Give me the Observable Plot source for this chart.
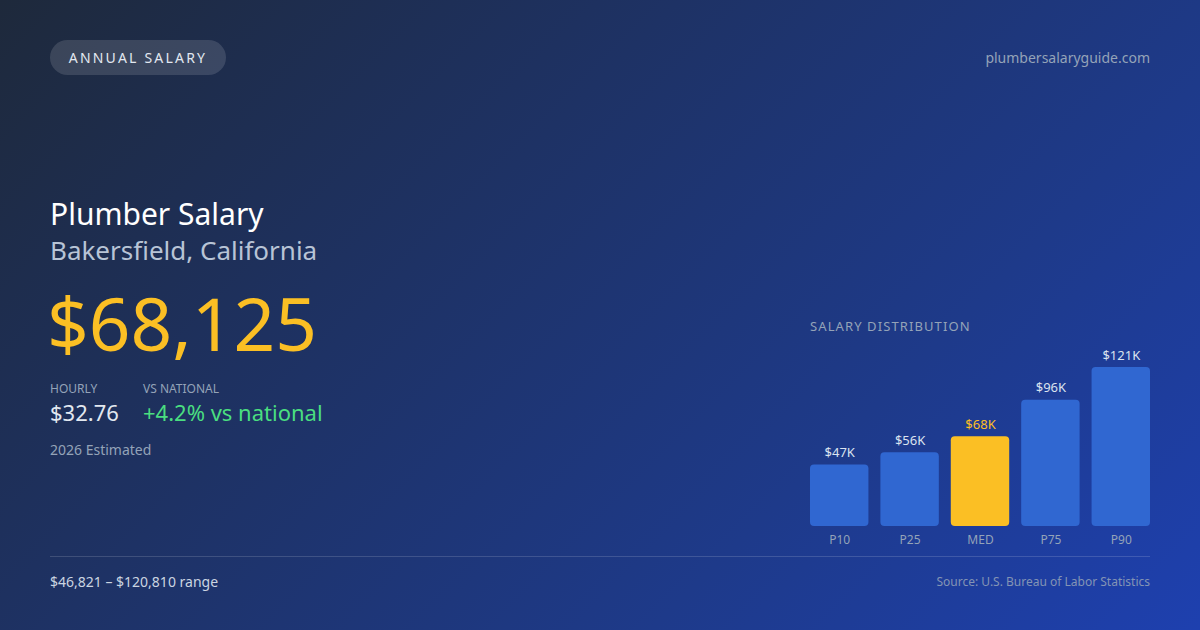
<!DOCTYPE html>
<html>
<head>
<meta charset="utf-8">
<script src="https://cdn.jsdelivr.net/npm/d3@7"></script>
<script src="https://cdn.jsdelivr.net/npm/@observablehq/plot@0.6"></script>
<style>
  html, body { margin: 0; padding: 0; }
  body { width: 1200px; height: 630px; overflow: hidden; font-family: "Noto Sans", "Open Sans", sans-serif; }
  #card { position: relative; width: 1200px; height: 630px; background: linear-gradient(135deg, #1e293b 0%, #1e3a8a 70%, #1e40af 100%); overflow: hidden; }
  .abs { position: absolute; white-space: nowrap; }
  #pill { left: 50px; top: 40px; width: 176px; height: 35px; border-radius: 18px; background: rgba(255,255,255,0.13); color: #e2e8f0; font-size: 14px; letter-spacing: 2.2px; line-height: 35px; text-align: center; }
  #site { right: 50px; top: 48px; font-size: 14px; color: #94a3b8; }
  #title { left: 50px; top: 193px; font-size: 30px; color: #ffffff; }
  #city { left: 50px; top: 232px; font-size: 26px; color: #b8c4d6; }
  #big { left: 47px; top: 283px; font-size: 73px; color: #fbbf24; line-height: 1.1; }
  .lbl { font-size: 12px; color: #94a3b8; top: 380px; }
  .val { font-size: 22px; top: 397px; }
  #est { left: 50px; top: 440px; font-size: 14px; color: #94a3b8; }
  #distTitle { left: 810px; top: 317px; font-size: 13px; letter-spacing: 1.1px; color: #94a3b8; }
  #rule { left: 50px; top: 556px; width: 1100px; height: 1px; background: rgba(255,255,255,0.15); }
  #range { left: 50px; top: 572px; font-size: 14px; color: #cbd5e1; }
  #source { right: 50px; top: 573px; font-size: 12px; color: #8394b4; }
  #chart { position: absolute; left: 810px; top: 335px; }
</style>
</head>
<body>
<div id="card">
  <div class="abs" id="pill">ANNUAL SALARY</div>
  <div class="abs" id="site">plumbersalaryguide.com</div>
  <div class="abs" id="title">Plumber Salary</div>
  <div class="abs" id="city">Bakersfield, California</div>
  <div class="abs" id="big">$68,125</div>
  <div class="abs lbl" style="left:50px">HOURLY</div>
  <div class="abs lbl" style="left:143px">VS NATIONAL</div>
  <div class="abs val" style="left:50px;color:#e2e8f0">$32.76</div>
  <div class="abs val" style="left:143px;color:#4ade80">+4.2% vs national</div>
  <div class="abs" id="est">2026 Estimated</div>
  <div class="abs" id="distTitle">SALARY DISTRIBUTION</div>
  <div id="chart"></div>
  <div class="abs" id="rule"></div>
  <div class="abs" id="range">$46,821 – $120,810 range</div>
  <div class="abs" id="source">Source: U.S. Bureau of Labor Statistics</div>
</div>
<script>
const percentiles = ["P10", "P25", "MED", "P75", "P90"];
const salaries = [46821, 56000, 68125, 96000, 120810];
const valueLabels = ["$47K", "$56K", "$68K", "$96K", "$121K"];
const highlight = "MED";

const data = percentiles.map((p, i) => ({p, v: salaries[i], label: valueLabels[i]}));

const chart = Plot.plot({
  width: 340,
  height: 215,
  marginTop: 32,
  marginBottom: 24,
  marginLeft: 0,
  marginRight: 0,
  style: {background: "transparent", fontFamily: "Noto Sans, Open Sans, sans-serif"},
  x: {domain: percentiles, paddingInner: 0.17, paddingOuter: 0, round: false, label: null},
  y: {domain: [0, d3.max(salaries)], axis: null},
  marks: [
    Plot.barY(data, {x: "p", y: "v", rx: 4, fill: d => d.p === highlight ? "#fbbf24" : "#3067d1"}),
    Plot.text(data, {x: "p", y: "v", text: "label", dy: -12, fontSize: 13,
      fill: d => d.p === highlight ? "#fbbf24" : "#dbe3ef"}),
    Plot.axisX({tickSize: 0, tickPadding: 9, fontSize: 12, color: "#94a3b8", label: null})
  ]
});
document.getElementById("chart").appendChild(chart);
</script>
</body>
</html>
